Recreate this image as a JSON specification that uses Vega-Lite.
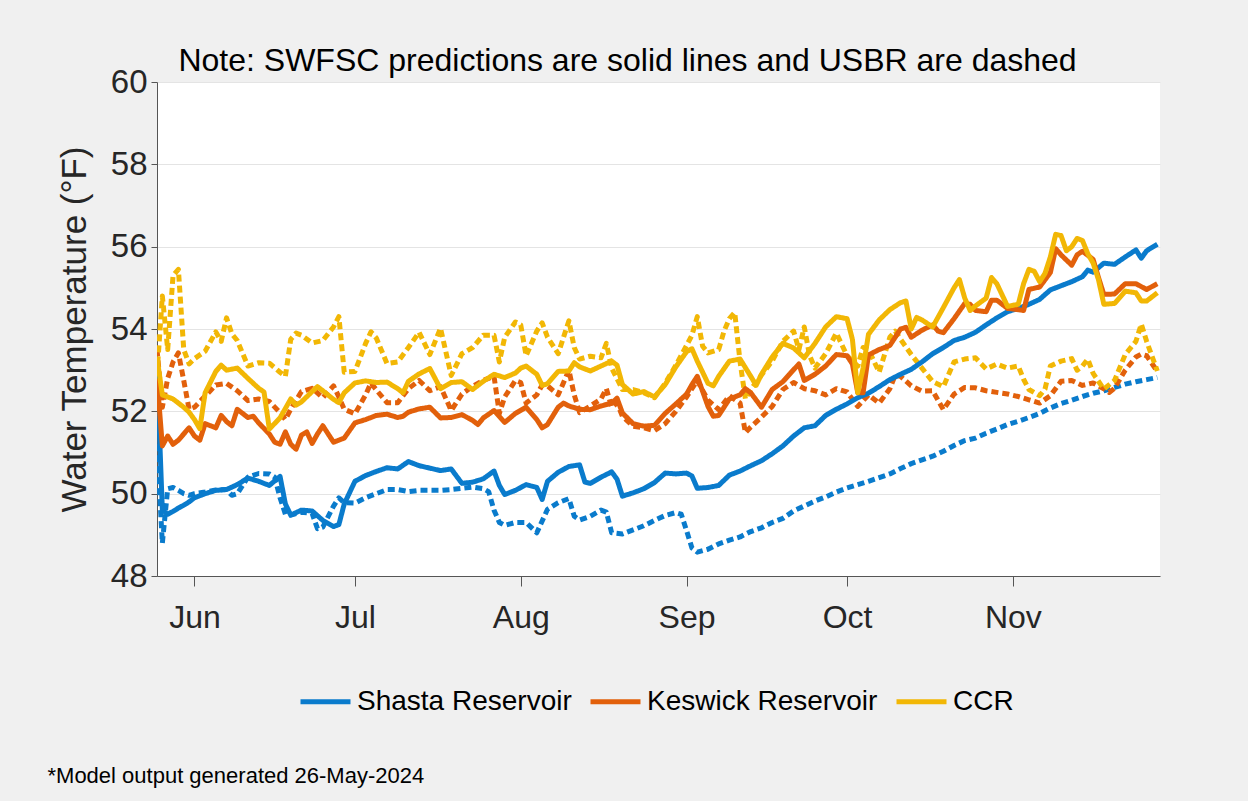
{
"$schema":"https://vega.github.io/schema/vega-lite/v6.json",
"width":1003,"height":494,
"autosize":"none",
"padding":{"left":157,"top":82,"right":88,"bottom":225},
"background":"#f0f0f0",
"config":{"view":{"fill":"white","stroke":null},"font":"Liberation Sans"},
"title":{"text":"Note: SWFSC predictions are solid lines and USBR are dashed","fontSize":32,"fontWeight":"normal","font":"Liberation Sans","color":"black","anchor":"middle","dx":-31,"offset":-12},
"data":{"values":[
{"d":"2024-05-25","SS":53.1,"SU":51.2,"KS":52.8,"KU":53.5,"CS":53.3,"CU":52.9},
{"d":"2024-05-26","SS":49.6,"SU":48.8,"KS":51.16,"KU":52.1,"CS":52.4,"CU":54.8},
{"d":"2024-05-27","SS":49.5,"SU":50.12,"KS":51.4,"KU":52.8,"CU":53.5},
{"d":"2024-05-28","SS":49.57,"SU":50.15,"KS":51.2,"KU":53.2,"CS":52.3,"CU":55.3},
{"d":"2024-05-29","SS":49.65,"SU":50.08,"KS":51.3,"KU":53.42,"CU":55.45},
{"d":"2024-05-30","SS":49.72,"SU":50.0,"KS":51.45,"KU":52.75,"CS":52.1,"CU":53.5},
{"d":"2024-05-31","SS":49.8,"SU":49.96,"KS":51.6,"KU":52.05,"CS":51.98,"CU":53.15},
{"d":"2024-06-01","SS":49.9,"SU":50.0,"KS":51.4,"KU":52.1,"CS":51.8,"CU":53.28},
{"d":"2024-06-02","KS":51.3,"CS":51.58},
{"d":"2024-06-03","SS":50.0,"SU":50.04,"KS":51.7,"KU":52.37,"CS":52.45,"CU":53.46},
{"d":"2024-06-05","SS":50.08,"SU":50.09,"KS":51.6,"KU":52.64,"CS":52.97,"CU":53.93},
{"d":"2024-06-06","KS":51.9,"CS":53.12,"CU":53.7},
{"d":"2024-06-07","SS":50.1,"SU":50.1,"KS":51.75,"KU":52.68,"CS":53.0,"CU":54.27},
{"d":"2024-06-08","SU":49.96,"KS":51.65,"CU":53.88},
{"d":"2024-06-09","SS":50.22,"SU":50.0,"KS":52.05,"KU":52.5,"CS":53.05,"CU":53.72},
{"d":"2024-06-11","SS":50.38,"SU":50.4,"KS":51.85,"KU":52.26,"CS":52.8,"CU":53.1},
{"d":"2024-06-12","KS":51.88},
{"d":"2024-06-13","SS":50.3,"SU":50.49,"KS":51.72,"KU":52.3,"CS":52.56,"CU":53.18},
{"d":"2024-06-14","CS":52.47},
{"d":"2024-06-15","SS":50.2,"SU":50.48,"KS":51.45,"KU":52.24,"CS":51.57,"CU":53.17},
{"d":"2024-06-16","SU":50.4,"KS":51.25},
{"d":"2024-06-17","SS":50.42,"SU":49.9,"KS":51.2,"KU":51.97,"CS":51.84,"CU":52.95},
{"d":"2024-06-18","SS":49.75,"SU":49.5,"KS":51.5,"KU":51.8,"CU":52.85},
{"d":"2024-06-19","SS":49.48,"SU":49.48,"KS":51.2,"KU":52.05,"CS":52.3,"CU":53.75},
{"d":"2024-06-20","KS":51.08,"CS":52.15,"CU":53.9},
{"d":"2024-06-21","SS":49.6,"SU":49.55,"KS":51.42,"KU":52.48,"CS":52.23,"CU":53.85},
{"d":"2024-06-22","KS":51.5},
{"d":"2024-06-23","SS":49.58,"SU":49.52,"KS":51.22,"KU":52.56,"CS":52.48,"CU":53.66},
{"d":"2024-06-24","SU":49.15,"KS":51.45,"CS":52.6},
{"d":"2024-06-25","SS":49.35,"SU":49.19,"KS":51.65,"KU":52.33,"CS":52.5,"CU":53.72},
{"d":"2024-06-27","SS":49.2,"SU":49.7,"KS":51.25,"KU":52.62,"CS":52.29,"CU":54.05},
{"d":"2024-06-28","SS":49.25,"SU":49.9,"KU":52.35,"CS":52.21,"CU":54.3},
{"d":"2024-06-29","SS":49.75,"SU":49.78,"KS":51.35,"KU":52.05,"CS":52.45,"CU":52.95},
{"d":"2024-07-01","SS":50.3,"SU":49.77,"KS":51.72,"KU":51.94,"CS":52.69,"CU":52.97},
{"d":"2024-07-03","SS":50.44,"SU":49.9,"KS":51.8,"KU":52.4,"CS":52.74,"CU":53.65},
{"d":"2024-07-04","KU":52.69,"CU":53.93},
{"d":"2024-07-05","SS":50.54,"SU":50.0,"KS":51.9,"KU":52.52,"CS":52.7,"CU":53.78},
{"d":"2024-07-07","SS":50.63,"SU":50.1,"KS":51.93,"KU":52.21,"CS":52.71,"CU":53.16},
{"d":"2024-07-09","SS":50.6,"SU":50.1,"KS":51.85,"KU":52.21,"CS":52.55,"CU":53.2},
{"d":"2024-07-10","KS":51.88,"CS":52.45},
{"d":"2024-07-11","SS":50.78,"SU":50.05,"KS":51.98,"KU":52.55,"CS":52.73,"CU":53.55},
{"d":"2024-07-13","SS":50.68,"SU":50.08,"KS":52.06,"KU":52.75,"CS":52.91,"CU":53.92},
{"d":"2024-07-15","SS":50.62,"SU":50.08,"KS":52.1,"KU":52.5,"CS":53.04,"CU":53.38},
{"d":"2024-07-17","SS":50.56,"SU":50.08,"KS":51.84,"KU":52.6,"CS":52.55,"CU":54.02},
{"d":"2024-07-19","SS":50.6,"SU":50.1,"KS":51.85,"KU":52.02,"CS":52.7,"CU":52.87},
{"d":"2024-07-21","SS":50.25,"SU":50.13,"KS":51.92,"KU":52.42,"CS":52.72,"CU":53.4},
{"d":"2024-07-23","SS":50.28,"SU":50.16,"KS":51.78,"KU":52.61,"CS":52.53,"CU":53.55},
{"d":"2024-07-24","KS":51.68},
{"d":"2024-07-25","SS":50.36,"SU":50.12,"KS":51.84,"KU":52.75,"CS":52.73,"CU":53.85},
{"d":"2024-07-26","SU":50.05},
{"d":"2024-07-27","SS":50.55,"SU":49.6,"KS":52.02,"KU":52.85,"CS":52.9,"CU":53.85},
{"d":"2024-07-28","SS":50.2,"SU":49.3,"KU":51.95,"CU":53.2},
{"d":"2024-07-29","SS":49.98,"SU":49.23,"KS":51.73,"KU":52.35,"CS":52.82,"CU":53.8},
{"d":"2024-07-31","SS":50.08,"SU":49.3,"KS":51.95,"KU":52.75,"CS":52.93,"CU":54.17},
{"d":"2024-08-01","KU":52.7,"CS":53.05,"CU":54.1},
{"d":"2024-08-02","SS":50.22,"SU":49.3,"KS":52.1,"KU":52.2,"CS":53.1,"CU":53.35},
{"d":"2024-08-04","SS":50.15,"SU":49.05,"KS":51.8,"KU":52.4,"CS":52.9,"CU":53.95},
{"d":"2024-08-05","SS":49.86,"KS":51.6,"KU":52.64,"CS":52.63,"CU":54.15},
{"d":"2024-08-06","SS":50.3,"SU":49.62,"KS":51.68,"KU":52.62,"CS":52.67,"CU":53.8},
{"d":"2024-08-08","SS":50.52,"SU":49.78,"KS":52.1,"KU":52.4,"CS":52.97,"CU":53.4},
{"d":"2024-08-09","KS":52.2},
{"d":"2024-08-10","SS":50.66,"SU":49.88,"KS":52.13,"KU":53.0,"CS":52.98,"CU":54.2},
{"d":"2024-08-11","SU":49.45,"KU":52.4,"CS":53.18,"CU":53.55},
{"d":"2024-08-12","SS":50.7,"SU":49.36,"KS":52.05,"KU":51.97,"CS":53.08,"CU":53.27},
{"d":"2024-08-13","SS":50.28},
{"d":"2024-08-14","SS":50.25,"SU":49.45,"KS":52.04,"KU":52.13,"CS":52.98,"CU":53.34},
{"d":"2024-08-16","SS":50.4,"SU":49.6,"KS":52.13,"KU":52.3,"CS":53.1,"CU":53.3},
{"d":"2024-08-17","SU":49.55,"KU":52.55,"CU":53.65},
{"d":"2024-08-18","SS":50.53,"SU":49.05,"KS":52.2,"KU":52.1,"CS":53.22,"CU":53.05},
{"d":"2024-08-19","SS":50.35,"KS":52.32,"KU":52.2,"CS":53.12},
{"d":"2024-08-20","SS":49.94,"SU":49.02,"KS":51.96,"KU":51.88,"CS":52.65,"CU":52.53},
{"d":"2024-08-22","SS":50.02,"SU":49.12,"KS":51.7,"KU":51.64,"CS":52.42,"CU":52.53},
{"d":"2024-08-24","SS":50.12,"SU":49.22,"KS":51.64,"KU":51.6,"CS":52.48,"CU":52.45},
{"d":"2024-08-26","SS":50.27,"SU":49.35,"KS":51.66,"KU":51.53,"CS":52.35,"CU":52.33},
{"d":"2024-08-28","SS":50.5,"SU":49.47,"KS":51.95,"KU":51.7,"CS":52.65,"CU":52.68},
{"d":"2024-08-30","SS":50.48,"SU":49.54,"KS":52.18,"KU":52.0,"CS":53.08,"CU":53.12},
{"d":"2024-08-31","SU":49.5},
{"d":"2024-09-01","SS":50.5,"SU":49.1,"KS":52.42,"KU":52.35,"CS":53.45,"CU":53.6},
{"d":"2024-09-02","SS":50.43,"SU":48.68,"KS":52.65,"CS":53.52,"CU":53.85},
{"d":"2024-09-03","SS":50.13,"SU":48.58,"KS":52.85,"KU":52.75,"CS":53.22,"CU":54.3},
{"d":"2024-09-04","CU":53.58},
{"d":"2024-09-05","SS":50.15,"SU":48.65,"KS":52.12,"KU":52.27,"CS":52.68,"CU":53.42},
{"d":"2024-09-06","KS":51.88,"CS":52.62},
{"d":"2024-09-07","SS":50.2,"SU":48.78,"KS":51.9,"KU":52.04,"CS":52.85,"CU":53.5},
{"d":"2024-09-08","CU":53.95},
{"d":"2024-09-09","SS":50.45,"SU":48.87,"KS":52.3,"KU":52.38,"CS":53.22,"CU":54.25},
{"d":"2024-09-10","CU":54.4},
{"d":"2024-09-11","SS":50.55,"SU":48.95,"KS":52.4,"KU":52.2,"CS":53.27,"CU":53.2},
{"d":"2024-09-12","KS":52.55,"KU":51.48,"CU":52.3},
{"d":"2024-09-13","SS":50.68,"SU":49.08,"KS":52.45,"KU":51.62,"CS":52.85,"CU":52.53},
{"d":"2024-09-14","CS":52.63},
{"d":"2024-09-15","SS":50.8,"SU":49.17,"KS":52.1,"KU":51.86,"CS":52.9,"CU":52.88},
{"d":"2024-09-17","SS":50.97,"SU":49.3,"KS":52.53,"KU":52.12,"CS":53.32,"CU":53.22},
{"d":"2024-09-19","SS":51.16,"SU":49.4,"KS":52.72,"KU":52.53,"CS":53.65,"CU":53.7},
{"d":"2024-09-21","SS":51.4,"SU":49.58,"KS":53.01,"KU":52.7,"CS":53.54,"CU":53.95},
{"d":"2024-09-22","KS":53.15,"CU":53.5},
{"d":"2024-09-23","SS":51.6,"SU":49.7,"KS":52.75,"KU":52.55,"CS":53.3,"CU":54.05},
{"d":"2024-09-24","CU":53.35},
{"d":"2024-09-25","SS":51.65,"SU":49.82,"KS":52.9,"KU":52.5,"CS":53.65,"CU":53.05},
{"d":"2024-09-27","SS":51.9,"SU":49.92,"KS":53.1,"KU":52.4,"CS":54.05,"CU":53.4},
{"d":"2024-09-29","SS":52.05,"SU":50.04,"KS":53.38,"KU":52.55,"CS":54.3,"CU":53.9},
{"d":"2024-10-01","SS":52.18,"SU":50.14,"KS":53.35,"KU":52.47,"CS":54.25,"CU":53.35},
{"d":"2024-10-02","KS":53.15,"CS":53.75},
{"d":"2024-10-03","SS":52.33,"SU":50.22,"KS":52.45,"KU":52.12,"CS":52.45,"CU":53.1},
{"d":"2024-10-04","KS":52.45,"CS":53.05,"CU":53.55},
{"d":"2024-10-05","SS":52.44,"SU":50.3,"KS":53.37,"KU":52.4,"CS":53.87,"CU":53.5},
{"d":"2024-10-07","SS":52.6,"SU":50.39,"KS":53.5,"KU":52.2,"CS":54.22,"CU":52.95},
{"d":"2024-10-09","SS":52.77,"SU":50.48,"KS":53.6,"KU":52.55,"CS":54.47,"CU":53.8},
{"d":"2024-10-10","KU":52.88,"CU":53.95},
{"d":"2024-10-11","SS":52.9,"SU":50.61,"KS":54.0,"KU":52.85,"CS":54.64,"CU":53.75},
{"d":"2024-10-12","KS":54.04,"CS":54.68},
{"d":"2024-10-13","SS":53.02,"SU":50.73,"KS":53.8,"KU":52.62,"CS":54.0,"CU":53.38},
{"d":"2024-10-14","CS":54.28},
{"d":"2024-10-15","SS":53.2,"SU":50.82,"KS":53.97,"KU":52.49,"CS":54.22,"CU":53.05},
{"d":"2024-10-17","SS":53.4,"SU":50.91,"KS":54.1,"KU":52.5,"CS":54.05,"CU":52.72},
{"d":"2024-10-18","KS":53.95},
{"d":"2024-10-19","SS":53.55,"SU":51.03,"KS":53.91,"KU":52.04,"CS":54.52,"CU":52.6},
{"d":"2024-10-21","SS":53.72,"SU":51.17,"KS":54.25,"KU":52.42,"CS":55.0,"CU":53.2},
{"d":"2024-10-22","CS":55.2},
{"d":"2024-10-23","SS":53.8,"SU":51.29,"KS":54.62,"KU":52.58,"CS":54.75,"CU":53.27},
{"d":"2024-10-24","KS":54.6,"CS":54.45},
{"d":"2024-10-25","SS":53.92,"SU":51.35,"KS":54.45,"KU":52.57,"CS":54.56,"CU":53.3},
{"d":"2024-10-27","SS":54.1,"SU":51.47,"KS":54.42,"KU":52.5,"CS":54.75,"CU":53.03},
{"d":"2024-10-28","KS":54.7,"CS":55.25},
{"d":"2024-10-29","SS":54.27,"SU":51.57,"KS":54.7,"KU":52.46,"CS":55.1,"CU":53.15},
{"d":"2024-10-31","SS":54.42,"SU":51.68,"KS":54.5,"KU":52.42,"CS":54.55,"CU":53.05},
{"d":"2024-11-02","SS":54.5,"SU":51.76,"KS":54.47,"KU":52.36,"CS":54.6,"CU":53.1},
{"d":"2024-11-03","KS":54.45,"CS":55.1,"CU":52.78},
{"d":"2024-11-04","SS":54.6,"SU":51.85,"KS":54.96,"KU":52.28,"CS":55.45,"CU":52.53},
{"d":"2024-11-05","CS":55.4},
{"d":"2024-11-06","SS":54.72,"SU":51.95,"KS":55.02,"KU":52.2,"CS":55.15,"CU":52.38},
{"d":"2024-11-07","CS":55.35,"CU":52.54},
{"d":"2024-11-08","SS":54.95,"SU":52.08,"KS":55.37,"KU":52.38,"CS":55.75,"CU":53.1},
{"d":"2024-11-09","KS":55.95,"CS":56.3},
{"d":"2024-11-10","SS":55.05,"SU":52.19,"KS":55.8,"KU":52.73,"CS":56.27,"CU":53.22},
{"d":"2024-11-11","CS":55.9},
{"d":"2024-11-12","SS":55.15,"SU":52.27,"KS":55.55,"KU":52.75,"CS":56.0,"CU":53.28},
{"d":"2024-11-13","KS":55.8,"CS":56.2,"CU":53.0},
{"d":"2024-11-14","SS":55.27,"SU":52.36,"KS":55.89,"KU":52.63,"CS":56.15,"CU":53.1},
{"d":"2024-11-15","SS":55.43,"CS":55.83,"CU":53.27},
{"d":"2024-11-16","SS":55.38,"SU":52.44,"KS":55.69,"KU":52.69,"CS":55.6,"CU":52.92},
{"d":"2024-11-17","KS":55.25,"CS":55.2},
{"d":"2024-11-18","SS":55.6,"SU":52.5,"KS":54.84,"KU":52.55,"CS":54.6,"CU":52.54},
{"d":"2024-11-19","KU":52.46},
{"d":"2024-11-20","SS":55.57,"SU":52.58,"KS":54.85,"KU":52.56,"CS":54.62,"CU":52.75},
{"d":"2024-11-22","SS":55.75,"SU":52.66,"KS":55.1,"KU":53.0,"CS":54.92,"CU":53.38},
{"d":"2024-11-24","SS":55.92,"SU":52.72,"KS":55.1,"KU":53.32,"CS":54.88,"CU":53.7},
{"d":"2024-11-25","SS":55.72,"KU":53.39,"CS":54.68,"CU":54.12},
{"d":"2024-11-26","SS":55.9,"SU":52.77,"KS":54.96,"KU":53.35,"CS":54.68,"CU":53.7},
{"d":"2024-11-28","SS":56.06,"SU":52.82,"KS":55.1,"KU":52.97,"CS":54.88,"CU":52.98}
]},
"transform":[
{"fold":["SU","KU","CU","SS","KS","CS"],"as":["k","v"]},
{"filter":"isValid(datum.v)"},
{"lookup":"k","from":{"data":{"values":[
{"k":"SS","r":"Shasta Reservoir","m":"SWFSC"},
{"k":"SU","r":"Shasta Reservoir","m":"USBR"},
{"k":"KS","r":"Keswick Reservoir","m":"SWFSC"},
{"k":"KU","r":"Keswick Reservoir","m":"USBR"},
{"k":"CS","r":"CCR","m":"SWFSC"},
{"k":"CU","r":"CCR","m":"USBR"}]},"key":"k","fields":["r","m"]}}
],
"mark":{"type":"line","strokeWidth":5,"clip":true,"strokeCap":"butt","strokeJoin":"round"},
"encoding":{
"x":{"field":"d","type":"temporal",
 "scale":{"type":"utc","domain":[{"year":2024,"month":5,"date":25,"utc":true},{"year":2024,"month":11,"date":28,"hours":12,"utc":true}]},
 "axis":{"values":[{"year":2024,"month":6,"date":1,"utc":true},{"year":2024,"month":7,"date":1,"utc":true},{"year":2024,"month":8,"date":1,"utc":true},{"year":2024,"month":9,"date":1,"utc":true},{"year":2024,"month":10,"date":1,"utc":true},{"year":2024,"month":11,"date":1,"utc":true}],
  "format":"%b","labelFontSize":32,"labelColor":"#262626","labelFont":"Liberation Sans","tickSize":10,"tickColor":"#555555","domainColor":"#555555","labelPadding":16,"grid":false,
  "title":"*Model output generated 26-May-2024","titleFontSize":22,"titleFontWeight":"normal","titleColor":"black","titleFont":"Liberation Sans","titleAnchor":"start","titleAlign":"left","titleBaseline":"alphabetic","titleX":-110,"titleY":206}},
"y":{"field":"v","type":"quantitative",
 "scale":{"domain":[48,60],"nice":false,"zero":false},
 "axis":{"values":[48,50,52,54,56,58,60],"labelFontSize":33,"labelColor":"#262626","labelFont":"Liberation Sans","tickSize":6,"tickColor":"#555555","domainColor":"#555555","labelPadding":4,"gridColor":"#e4e4e4",
  "title":"Water Temperature (°F)","titleFontSize":35,"titleFontWeight":"normal","titleColor":"#262626","titleFont":"Liberation Sans","titlePadding":18}},
"color":{"field":"r","type":"nominal","scale":{"domain":["Shasta Reservoir","Keswick Reservoir","CCR"],"range":["#0a7bcc","#e2600b","#f2b705"]},
 "legend":{"orient":"none","legendX":141,"legendY":592,"direction":"horizontal","title":null,"symbolType":"stroke","symbolSize":2500,"symbolStrokeWidth":5,"labelFontSize":28,"labelColor":"black","labelFont":"Liberation Sans","labelLimit":0,"columnPadding":8,"labelOffset":4}},
"strokeDash":{"field":"m","type":"nominal","scale":{"domain":["SWFSC","USBR"],"range":[[1,0],[7,4]]},"legend":null},
"detail":{"field":"k"}
}
}
